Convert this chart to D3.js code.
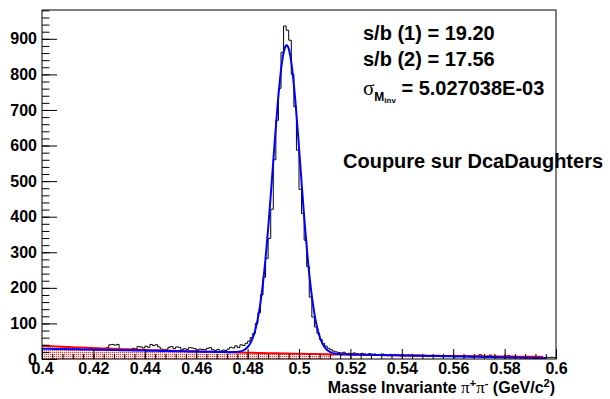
<!DOCTYPE html>
<html><head><meta charset="utf-8">
<script src="https://cdn.jsdelivr.net/npm/d3@7"></script>
<style>
html,body{margin:0;padding:0;background:#fff;}
svg{display:block;}
text{font-family:"Liberation Sans",Arial,Helvetica,sans-serif;font-weight:bold;}
</style></head>
<body>
<svg id="c" width="610" height="399"></svg>
<script>
// ---- data ----
const binLow = 0.4, binWidth = 0.001;
const counts = [
30,33,31,28,27,32,30,34,29,31,
33,27,30,26,29,31,28,27,30,25,
28,30,26,29,27,32,40,41,39,41,
28,25,23,27,24,30,29,35,34,31,
36,33,41,38,40,34,28,26,27,33,
35,29,34,33,26,29,27,32,31,29,
25,28,27,26,30,32,26,24,27,22,
25,24,28,33,31,37,32,40,38,44,
50,60,72,100,130,180,230,283,339,421,
560,671,761,862,936,924,896,800,709,587,
477,409,334,260,174,118,90,72,55,44,
36,30,26,22,20,18,17,19,15,16,
14,17,15,13,16,14,12,15,13,14,
12,11,14,12,10,13,11,12,10,9,
12,10,11,9,10,8,11,9,10,8,
9,7,10,8,9,7,8,10,7,8,
6,9,7,8,6,7,9,6,8,7,
12,8,6,7,11,6,8,5,7,6,
5,10,6,7,5,6,4,7,5,6,
4,5,6,4,5,3,5,4,5,4
];
// total fit: gaussian (mean, sigma, amplitude) + linear background (value at 0.4, value at 0.6)
const gausPars = [0.4952, 0.00535, 866];
const fitBgPars = [29, 2];
const fitRange = [0.4, 0.596];
// background-only fit: exponential (value at 0.4, slope)
const bgPars = [37, -9.25];
const bgRange = [0.4, 0.595];
const bgFillRange = [0.4, 0.513];
const xTicks = [0.4,0.42,0.44,0.46,0.48,0.5,0.52,0.54,0.56,0.58,0.6];
const yTicks = [0,100,200,300,400,500,600,700,800,900];
const infoLines = ["s/b (1) = 19.20", "s/b (2) = 17.56"];
const sigmaText = " = 5.027038E-03";
const cutText = "Coupure sur DcaDaughters";

// ---- drawing ----
const svg = d3.select("#c");
const L = 42, R = 556, T = 10, B = 359;
const x = d3.scaleLinear().domain([0.4, 0.6]).range([L, R]);
const y = d3.scaleLinear().domain([0, 981]).range([B, T]);

const defs = svg.append("defs");
const pat = defs.append("pattern").attr("id","dots").attr("patternUnits","userSpaceOnUse")
  .attr("width",2).attr("height",2);
pat.append("rect").attr("width",2).attr("height",2).attr("fill","#ffd4d4");
pat.append("rect").attr("x",0).attr("y",0).attr("width",1).attr("height",1).attr("fill","#ff3030");
pat.append("rect").attr("x",1).attr("y",1).attr("width",1).attr("height",1).attr("fill","#ffffff");
defs.append("clipPath").attr("id","frame").append("rect").attr("x",L).attr("y",T).attr("width",R-L).attr("height",B-T);

const plot = svg.append("g").attr("clip-path","url(#frame)");

// histogram outline
const pts = [];
counts.forEach((c,i)=>{
  const x0 = binLow + i*binWidth, x1 = x0 + binWidth;
  pts.push([x(x0), y(c)]); pts.push([x(x1), y(c)]);
});
plot.append("path").attr("d", d3.line()(pts)).attr("fill","none").attr("stroke","#000").attr("stroke-width",1);

function bgFun(v){ return bgPars[0]*Math.exp(bgPars[1]*(v-0.4)); }
function fitFun(v){
  const bg = fitBgPars[0] + (fitBgPars[1]-fitBgPars[0])*(v-0.4)/0.2;
  const d = (v-gausPars[0])/gausPars[1];
  return bg + gausPars[2]*Math.exp(-0.5*d*d);
}
const sample = (r, n) => d3.range(n+1).map(k => r[0] + (r[1]-r[0])*k/n);

// background fill
const fillX = sample(bgFillRange, 60);
plot.append("path").attr("d", d3.area().x(v=>x(v)).y0(y(0)).y1(v=>y(bgFun(v)))(fillX))
  .attr("fill","url(#dots)").attr("stroke","none");
// background line
plot.append("path").attr("d", d3.line().x(v=>x(v)).y(v=>y(bgFun(v)))(sample(bgRange,100)))
  .attr("fill","none").attr("stroke","#ff0000").attr("stroke-width",2);
// total fit
plot.append("path").attr("d", d3.line().x(v=>x(v)).y(v=>y(fitFun(v))).curve(d3.curveLinear)(sample(fitRange,600)))
  .attr("fill","none").attr("stroke","#0000ff").attr("stroke-width",2);

// axes
const fontSize = 16;
const yMinor = d3.range(0, 981, 20);
svg.append("g").attr("transform",`translate(${L},0)`)
  .call(d3.axisLeft(y).tickValues(yMinor).tickSize(-7.5).tickFormat(""))
  .call(g=>g.select(".domain").remove());
const yAx = svg.append("g").attr("transform",`translate(${L},0)`)
  .call(d3.axisLeft(y).tickValues(yTicks).tickSize(-15).tickPadding(5).tickFormat(d3.format("d")));
yAx.select(".domain").remove();
yAx.selectAll("text").attr("font-size",fontSize).attr("fill","#000").attr("font-family","Liberation Sans").attr("font-weight","bold");

const xMinor = d3.range(0, 51).map(k => 0.4 + k*0.004);
svg.append("g").attr("transform",`translate(0,${B})`)
  .call(d3.axisBottom(x).tickValues(xMinor).tickSize(-5).tickFormat(""))
  .call(g=>g.select(".domain").remove());
const xAx = svg.append("g").attr("transform",`translate(0,${B})`)
  .call(d3.axisBottom(x).tickValues(xTicks).tickSize(-10).tickPadding(4).tickFormat(d=>String(+d.toFixed(2))));
xAx.select(".domain").remove();
xAx.selectAll("text").attr("font-size",fontSize).attr("fill","#000").attr("font-family","Liberation Sans").attr("font-weight","bold");

// frame
svg.append("rect").attr("x",L).attr("y",T).attr("width",R-L).attr("height",B-T)
  .attr("fill","none").attr("stroke","#000").attr("stroke-width",1);

// axis title
const title = svg.append("text").attr("x",555).attr("y",393).attr("text-anchor","end").attr("font-size",16);
title.append("tspan").text("Masse Invariante ");
title.append("tspan").attr("font-family","Liberation Serif").attr("font-weight","normal").attr("font-size",17).text("π");
title.append("tspan").attr("font-size",11).attr("dy",-6).text("+");
title.append("tspan").attr("font-family","Liberation Serif").attr("font-weight","normal").attr("font-size",17).attr("dy",6).text("π");
title.append("tspan").attr("font-size",11).attr("dy",-6).text("-");
title.append("tspan").attr("dy",6).text(" (GeV/c");
title.append("tspan").attr("font-size",11).attr("dy",-6).text("2");
title.append("tspan").attr("dy",6).text(")");

// info text
infoLines.forEach((s,i)=>{
  svg.append("text").attr("x",363).attr("y",40 + i*26).attr("font-size",20).text(s);
});
const sig = svg.append("text").attr("x",363).attr("y",95).attr("font-size",20);
sig.append("tspan").attr("font-family","Liberation Serif").attr("font-weight","normal").attr("font-size",21).text("σ");
sig.append("tspan").attr("font-size",12).attr("dy",6).text("M");
sig.append("tspan").attr("font-size",8).attr("dy",2).text("inv");
sig.append("tspan").attr("font-size",20).attr("dy",-8).text(sigmaText);

svg.append("text").attr("x",343).attr("y",168).attr("font-size",20).text(cutText);
</script>
</body></html>
